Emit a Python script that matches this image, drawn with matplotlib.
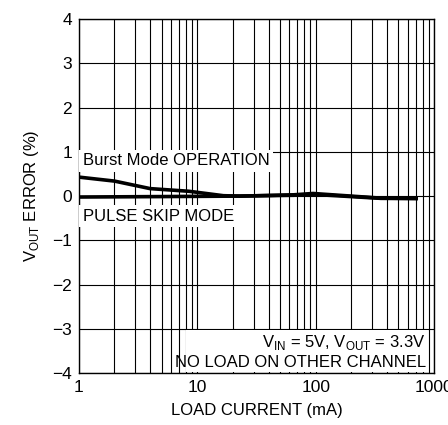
#!/usr/bin/env python3
"""VOUT error vs load current, Burst Mode and pulse skip mode."""

import matplotlib
matplotlib.use("Agg")
import matplotlib.pyplot as plt
from matplotlib.ticker import FixedLocator, LogLocator, NullFormatter

plt.rcParams["font.family"] = ["Liberation Sans", "DejaVu Sans"]
plt.rcParams["mathtext.fontset"] = "custom"
plt.rcParams["mathtext.rm"] = "Liberation Sans"

# Burst Mode OPERATION curve
burst_ma = [1, 2, 4, 8.5, 16.6, 23, 65, 95, 355, 730]
burst_err = [0.43, 0.34, 0.17, 0.11, 0.01, 0.0, 0.03, 0.06, -0.045, -0.05]

# PULSE SKIP MODE curve
pulse_ma = [1, 5, 10, 20, 65, 95, 355, 730]
pulse_err = [-0.02, -0.01, -0.005, 0.0, 0.02, 0.04, -0.05, -0.055]

x_ticks = [1, 10, 100, 1000]
y_ticks = [-4, -3, -2, -1, 0, 1, 2, 3, 4]

fig = plt.figure(figsize=(4.48, 4.25), dpi=100)
ax = fig.add_axes([0.176, 0.122, 0.793, 0.833])

ax.plot(burst_ma, burst_err, color="black", lw=2.6, solid_capstyle="butt", zorder=4)
ax.plot(pulse_ma, pulse_err, color="black", lw=2.6, solid_capstyle="butt", zorder=4)

ax.set_xscale("log")
ax.set_xlim(1, 1000)
ax.set_ylim(-4, 4)
ax.xaxis.set_major_locator(FixedLocator(x_ticks))
ax.set_xticklabels([str(t) for t in x_ticks])
ax.xaxis.set_minor_locator(LogLocator(base=10, subs=range(2, 10)))
ax.xaxis.set_minor_formatter(NullFormatter())
ax.set_yticks(y_ticks)
ax.set_yticklabels([str(t).replace("-", "\u2212") for t in y_ticks])

ax.grid(True, which="both", axis="x", color="black", lw=0.8)
ax.grid(True, which="major", axis="y", color="black", lw=0.8)
ax.set_axisbelow(True)
ax.tick_params(which="both", length=0, labelsize=12.5, pad=5)
for s in ax.spines.values():
    s.set_linewidth(1.0)

ax.set_xlabel("LOAD CURRENT (mA)", fontsize=12, labelpad=6)
ax.set_ylabel(r"V$_{\mathregular{OUT}}$ ERROR (%)", fontsize=12, labelpad=8)

box = dict(facecolor="white", edgecolor="none", pad=2.5)
ax.text(1.08, 0.8, "Burst Mode OPERATION", fontsize=12, va="center", ha="left",
        bbox=box, zorder=3)
ax.text(1.08, -0.45, "PULSE SKIP MODE", fontsize=12, va="center", ha="left",
        bbox=box, zorder=3)
ax.text(850, -3.3, r"V$_{\mathregular{IN}}$ = 5V, V$_{\mathregular{OUT}}$ = 3.3V",
        fontsize=12, va="center", ha="right", zorder=3)
ax.text(850, -3.75, "NO LOAD ON OTHER CHANNEL", fontsize=12, va="center",
        ha="right", zorder=3)
ax.fill_between([8.05, 895], -3.98, -3.03, color="white", zorder=2, lw=0)

fig.savefig("out.png", dpi=100)
